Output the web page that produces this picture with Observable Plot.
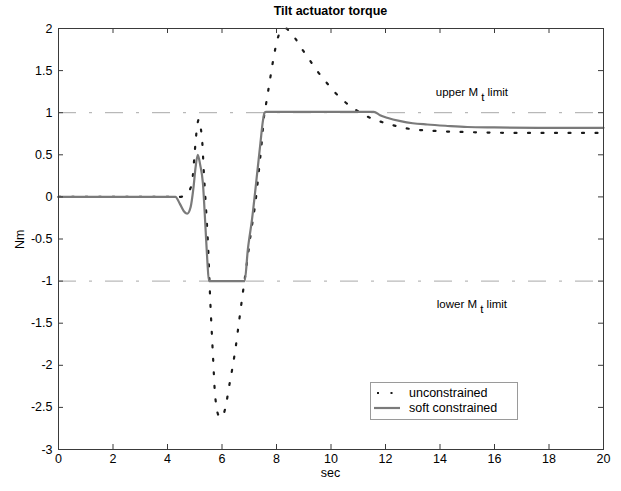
<!DOCTYPE html>
<html><head><meta charset="utf-8">
<script src="https://cdn.jsdelivr.net/npm/d3@7"></script>
<script src="https://cdn.jsdelivr.net/npm/@observablehq/plot@0.6"></script>
<style>
html,body{margin:0;padding:0;background:#fff;}
#wrap{position:relative;width:621px;height:491px;font-family:"Liberation Sans",Arial,sans-serif;color:#000;}
#wrap svg{display:block;}
.ov{position:absolute;white-space:nowrap;line-height:1;}
#title{left:58px;width:545px;top:5px;text-align:center;font-weight:bold;font-size:12.5px;}
#xlab{left:58px;width:545px;top:467px;text-align:center;font-size:12.5px;}
#ylab{left:11px;top:233px;font-size:12.5px;transform:rotate(-90deg);transform-origin:center;}
#legend{left:370px;top:382px;width:148px;height:38px;border:1px solid #9a9a9a;background:#fff;box-sizing:border-box;}
</style></head><body>
<div id="wrap"></div>
<script>
const titleText = "Tilt actuator torque";
const xLabel = "sec";
const yLabel = "Nm";
const xTicks = [0,2,4,6,8,10,12,14,16,18,20];
const yTicks = [-3,-2.5,-2,-1.5,-1,-0.5,0,0.5,1,1.5,2];
const seriesNames = ["unconstrained","soft constrained"];

// soft constrained (solid)
const softT = [0,4.29,4.45,4.6,4.72,4.85,4.95,5.03,5.11,5.2,5.3,5.39,5.46,5.52,6.83,6.95,7.1,7.29,7.41,7.5,7.56,7.62,11.57,11.8,12.06,12.55,13.0,13.53,14.2,15,16,18,20];
const softV = [0,0,-0.08,-0.17,-0.2,-0.12,0.1,0.35,0.5,0.38,0.16,-0.34,-0.75,-1.0,-1.0,-0.62,-0.27,0.28,0.64,0.9,1.0,1.01,1.01,0.97,0.94,0.9,0.875,0.86,0.845,0.83,0.825,0.82,0.82];

// unconstrained (dotted)
const freeT = [0,4.45,4.65,4.84,4.93,4.98,5.03,5.08,5.15,5.22,5.28,5.33,5.39,5.45,5.5,5.54,5.58,5.63,5.68,5.73,5.79,5.88,5.97,6.06,6.17,6.25,6.34,6.42,6.5,6.63,6.76,6.9,7.05,7.24,7.35,7.45,7.54,7.62,7.7,7.78,7.86,7.95,8.07,8.2,8.35,8.5,8.69,8.97,9.25,9.53,9.83,10.15,10.47,10.88,11.3,11.76,12.18,12.55,13.04,13.5,14,15,17,20];
const freeV = [0,0,0.02,0.1,0.25,0.45,0.65,0.82,0.92,0.82,0.63,0.31,-0.01,-0.34,-0.66,-1.0,-1.31,-1.64,-1.96,-2.28,-2.48,-2.6,-2.62,-2.58,-2.43,-2.27,-2.11,-1.96,-1.79,-1.47,-1.15,-0.82,-0.45,-0.03,0.3,0.62,0.95,1.11,1.27,1.43,1.59,1.75,1.91,1.98,2.0,1.95,1.88,1.74,1.61,1.48,1.36,1.24,1.14,1.04,0.96,0.9,0.86,0.83,0.8,0.79,0.78,0.77,0.76,0.76];

const limitValues = [1,-1];
const limitMain = ["upper M","lower M"];
const limitSub = ["t","t"];
const limitTail = [" limit"," limit"];
const limitLabelX = [15.17,15.17];
const limitLabelY = [1.24,-1.27];

const soft = softT.map((t,i)=>({t, v: softV[i]}));
const free = freeT.map((t,i)=>({t, v: freeV[i]}));
const labels = limitMain.map((m,i)=>({x: limitLabelX[i], y: limitLabelY[i], text: m + "|" + limitSub[i] + "|" + limitTail[i]}));

const W = 621, H = 491, mL = 58, mR = 18, mT = 28, mB = 42;
const pw = W - mL - mR, ph = H - mT - mB;
const tick = 5;
const axisColor = "#3a3a3a";

const plot = Plot.plot({
  width: W, height: H,
  marginLeft: mL, marginRight: mR, marginTop: mT, marginBottom: mB,
  style: {fontFamily: '"Liberation Sans", Arial, sans-serif', fontSize: "12.5px", color: "#000", background: "#fff"},
  x: {domain: [0,20]},
  y: {domain: [-3,2]},
  marks: [
    Plot.ruleY(limitValues, {stroke: "#a8a8a8", strokeWidth: 1, strokeDasharray: "18,13,3,13"}),
    Plot.line(free, {x: "t", y: "v", stroke: "#1a1a1a", strokeWidth: 2.2, strokeDasharray: "2,11.5", curve: "monotone-x"}),
    Plot.line(soft, {x: "t", y: "v", stroke: "#7a7a7a", strokeWidth: 2.2, curve: "monotone-x"}),
    Plot.text(labels, {x: "x", y: "y", text: "text", fill: "#000", fontSize: 11.5}),
    Plot.ruleX(xTicks, {x: d=>d, insetTop: ph - tick, stroke: axisColor}),
    Plot.ruleX(xTicks, {x: d=>d, insetBottom: ph - tick, stroke: axisColor}),
    Plot.ruleY(yTicks, {y: d=>d, insetRight: pw - tick, stroke: axisColor}),
    Plot.ruleY(yTicks, {y: d=>d, insetLeft: pw - tick, stroke: axisColor}),
    Plot.axisX({ticks: xTicks, tickSize: 0, tickPadding: 5, tickFormat: d=>String(d), label: null}),
    Plot.axisY({ticks: yTicks, tickSize: 0, tickPadding: 6, tickFormat: d=>String(d), label: null}),
    Plot.frame({stroke: axisColor, strokeWidth: 1})
  ]
});

// subscript handling for limit labels
d3.select(plot).selectAll("text").each(function(){
  const s = this.textContent;
  if (s.indexOf("|") >= 0) {
    const parts = s.split("|");
    const el = d3.select(this);
    el.text(null);
    el.append("tspan").text(parts[0] + " ");
    el.append("tspan").attr("dy", "0.45em").text(parts[1]);
    el.append("tspan").attr("dy", "-0.45em").text(parts[2]);
  }
});

const wrap = document.getElementById("wrap");
wrap.appendChild(plot);

function ov(id, txt){ const d = document.createElement("div"); d.id = id; d.className = "ov"; d.textContent = txt; wrap.appendChild(d); return d; }
ov("title", titleText);
ov("xlab", xLabel);
ov("ylab", yLabel);

// legend
const leg = document.createElement("div");
leg.id = "legend"; leg.className = "ov";
wrap.appendChild(leg);
const ls = d3.select(leg).append("svg").attr("width", 146).attr("height", 36);
const styles = [
  {stroke: "#1a1a1a", dash: "2,11.5"},
  {stroke: "#7a7a7a", dash: null}
];
seriesNames.forEach((name, i) => {
  const yy = 10 + i * 15;
  const l = ls.append("line").attr("x1", 3).attr("x2", 29).attr("y1", yy).attr("y2", yy)
    .attr("stroke", styles[i].stroke).attr("stroke-width", 2.2);
  if (styles[i].dash) l.attr("stroke-dasharray", styles[i].dash).attr("stroke-dashoffset", -3);
  ls.append("text").attr("x", 38).attr("y", yy).attr("dy", "0.35em")
    .attr("font-family", '"Liberation Sans", Arial, sans-serif').attr("font-size", 12.5).text(name);
});
</script>
</body></html>
